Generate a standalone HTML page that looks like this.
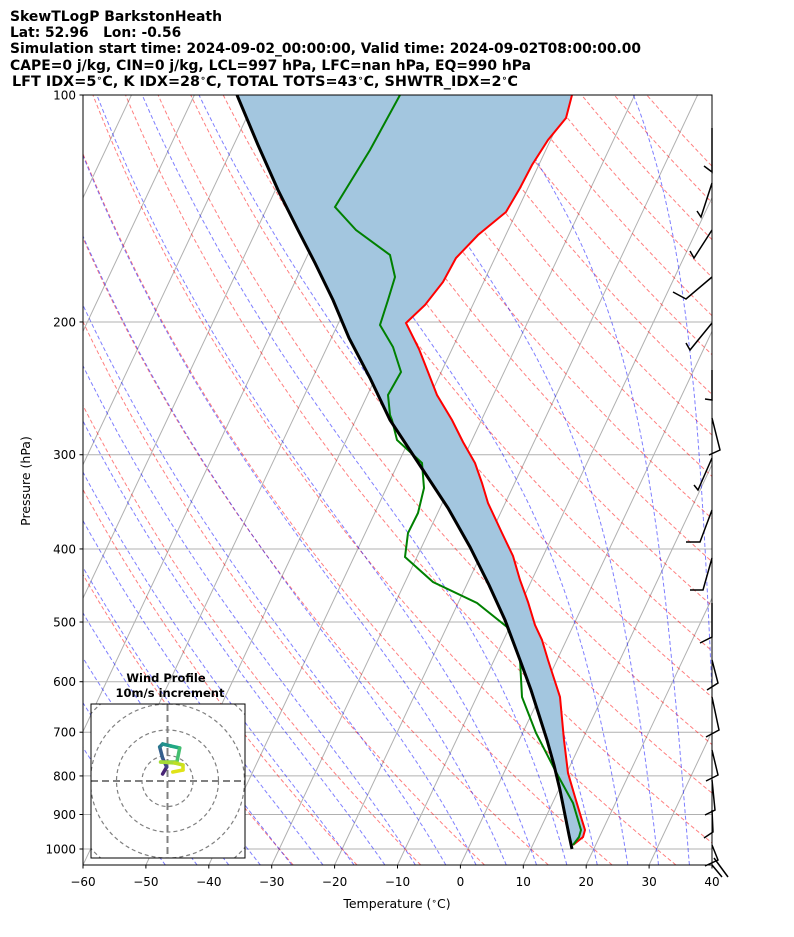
<!DOCTYPE html>
<html><head><meta charset="utf-8">
<style>
html,body{margin:0;padding:0;background:#fff;}
svg{display:block;font-family:"DejaVu Sans","Liberation Sans",sans-serif;}
</style></head>
<body>
<svg id="s" width="794" height="937" viewBox="0 0 794 937" xmlns="http://www.w3.org/2000/svg">
<defs><clipPath id="c"><rect x="83" y="95" width="629" height="770"/></clipPath>
<clipPath id="h"><rect x="91" y="704" width="154" height="154"/></clipPath></defs>
<rect width="794" height="937" fill="#fff"/>
<g id="bg" clip-path="url(#c)"></g>
<g id="data" clip-path="url(#c)"></g>
<g id="hodo"></g>
<g id="barbs" stroke="#000" stroke-width="1.5" fill="none"></g>
<rect x="83" y="95" width="629" height="770" fill="none" stroke="#000" stroke-width="1"/>
<g id="ticks" font-size="12px" fill="#000"></g>
<g font-weight="bold" font-size="13.8px" fill="#000">
<text x="10" y="21" textLength="212" lengthAdjust="spacingAndGlyphs">SkewTLogP BarkstonHeath</text>
<text x="10" y="37" xml:space="preserve">Lat: 52.96   Lon: -0.56</text>
<text x="10" y="53" textLength="631" lengthAdjust="spacingAndGlyphs">Simulation start time: 2024-09-02_00:00:00, Valid time: 2024-09-02T08:00:00.00</text>
<text x="10" y="70" textLength="521" lengthAdjust="spacingAndGlyphs">CAPE=0 j/kg, CIN=0 j/kg, LCL=997 hPa, LFC=nan hPa, EQ=990 hPa</text>
<text x="12" y="86" textLength="506" lengthAdjust="spacingAndGlyphs">LFT IDX=5<tspan font-size="9px" dy="-5">∘</tspan><tspan dy="5">C, K IDX=28</tspan><tspan font-size="9px" dy="-5">∘</tspan><tspan dy="5">C, TOTAL TOTS=43</tspan><tspan font-size="9px" dy="-5">∘</tspan><tspan dy="5">C, SHWTR_IDX=2</tspan><tspan font-size="9px" dy="-5">∘</tspan><tspan dy="5">C</tspan></text>
</g>
<text x="30" y="481" font-size="12.5px" text-anchor="middle" transform="rotate(-90 30 481)">Pressure (hPa)</text>
<text x="397" y="908" font-size="12.5px" text-anchor="middle">Temperature (<tspan font-size="9px" dy="-4">∘</tspan><tspan dy="4">C)</tspan></text>
<g font-weight="bold" font-size="11.5px" text-anchor="middle">
<text x="166" y="682">Wind Profile</text>
<text x="170" y="697">10m/s increment</text>
</g>
</svg>
<script>
(function(){
var NS="http://www.w3.org/2000/svg";
function Y(p){return 95+754*Math.log10(p/100);}
function X(T,p){return 83+(T+60)*6.29+0.4714*(865-Y(p));}
function el(par,tag,at){var e=document.createElementNS(NS,tag);for(var k in at)e.setAttribute(k,at[k]);document.getElementById(par).appendChild(e);return e;}
function pts(a){return a.map(function(q){return q[0].toFixed(1)+","+q[1].toFixed(1);}).join(" ");}
for(var p=100;p<=1000;p+=100){el("bg","line",{x1:83,x2:712,y1:Y(p),y2:Y(p),stroke:"#b0b0b0","stroke-width":1});}
for(var T=-160;T<=40;T+=10){el("bg","line",{x1:X(T,1050),y1:865,x2:X(T,100),y2:95,stroke:"#b0b0b0","stroke-width":1});}
var ps=[];for(var q=1050;q>=100;q-=5)ps.push(q);
for(var t0=-30;t0<=200;t0+=10){var th=t0+273.15;var a=ps.map(function(p){return [X(th*Math.pow(p/1000,0.2857)-273.15,p),Y(p)];});
el("bg","polyline",{points:pts(a),fill:"none",stroke:"#ff0000","stroke-opacity":0.5,"stroke-width":1,"stroke-dasharray":"4,2.5"});}
var Rd=287.04,Cp=1005.7,Lv=2.501e6,eps=0.622;
function f(p,T){var Pa=p*100;var es=611.2*Math.exp(17.67*(T-273.15)/(T-29.65));var rs=eps*es/(Pa-es);
return (Rd*T+Lv*rs)/(Cp+Lv*Lv*rs*eps/(Rd*T*T))/Pa*100;}
function moist(t0){var out={};var T=t0+273.15;out[1000]=T;var p=1000,h=-1;
for(var i=0;i<900;i++){var k1=f(p,T),k2=f(p+h/2,T+h/2*k1),k3=f(p+h/2,T+h/2*k2),k4=f(p+h,T+h*k3);T+=h/6*(k1+2*k2+2*k3+k4);p+=h;if(Math.round(p)%5==0)out[Math.round(p)]=T;}
T=t0+273.15;p=1000;h=1;for(i=0;i<50;i++){var k1=f(p,T),k2=f(p+h/2,T+h/2*k1),k3=f(p+h/2,T+h/2*k2),k4=f(p+h,T+h*k3);T+=h/6*(k1+2*k2+2*k3+k4);p+=h;if(Math.round(p)%5==0)out[Math.round(p)]=T;}
return ps.map(function(p){return [X(out[p]-273.15,p),Y(p)];});}
for(var m=-50;m<=45;m+=5){el("bg","polyline",{points:pts(moist(m)),fill:"none",stroke:"#0000ff","stroke-opacity":0.5,"stroke-width":1,"stroke-dasharray":"4,2.5"});}
var red=[[572,95],[566,118],[548,140],[532,165],[520,188],[506,212],[478,235],[456,258],[443,282],[425,305],[406,323],[419,349],[428,372],[437,395],[452,420],[463,442],[475,463],[482,483],[488,503],[502,533],[513,556],[520,580],[528,602],[535,625],[542,640],[548,660],[560,697],[564,740],[568,773],[575,797],[581,817],[585,830],[583,837],[573,845]];
var grn=[[400,95],[370,150],[335,207],[356,230],[390,255],[395,277],[388,300],[380,325],[393,347],[401,372],[388,395],[390,415],[392,420],[397,440],[422,463],[424,488],[418,513],[408,533],[405,557],[433,582],[477,603],[507,627],[520,660],[522,697],[536,733],[556,772],[573,803],[581,830],[579,837],[573,845]];
var par=[[237,95],[258,145],[278,190],[298,230],[315,263],[333,300],[349,338],[370,378],[390,420],[423,470],[448,508],[470,547],[489,585],[505,620],[520,660],[531,690],[539,715],[547,740],[554,765],[560,790],[565,815],[569,835],[572,849]];
el("data","polygon",{points:pts(par.concat(red.slice().reverse())),fill:"#a3c6df",stroke:"none"});
el("data","polyline",{points:pts(red),fill:"none",stroke:"#ff0000","stroke-width":2});
el("data","polyline",{points:pts(grn),fill:"none",stroke:"#008000","stroke-width":2});
el("data","polyline",{points:pts(par),fill:"none",stroke:"#000","stroke-width":3});
for(p=100;p<=1000;p+=100){el("ticks","line",{x1:79.5,x2:83,y1:Y(p),y2:Y(p),stroke:"#000"});var t=el("ticks","text",{x:76,y:Y(p)+4.5,"text-anchor":"end"});t.textContent=p;}
for(T=-60;T<=40;T+=10){var x=83+(T+60)*6.29;el("ticks","line",{x1:x,x2:x,y1:865,y2:868.5,stroke:"#000"});var t=el("ticks","text",{x:x,y:886,"text-anchor":"middle"});t.textContent=(T<0?"\u2212"+(-T):T);}
var B=[[[712,128],[712,172],[704,166]],[[712,183],[701,217],[697,211]],[[712,230],[694,258],[690,251]],[[712,277],[686,299],[673,292]],[[712,323],[690,350],[686,343]],[[712,370],[712,400],[705,399]],[[712,418],[720,450],[709,455]],[[712,458],[698,490],[694,485]],[[712,510],[700,542],[686,542]],[[712,558],[703,590],[690,590]],[[712,603],[712,637],[700,643]],[[712,660],[718,683],[707,690]],[[712,697],[719,730],[706,737]],[[712,750],[718,775],[706,781]],[[712,780],[715,810],[705,815]],[[712,810],[713,832],[704,838]],[[712,845],[718,860],[705,866]],[[714,858],[728,877]],[[712,865],[722,877]]];
B.forEach(function(b){el("barbs","polyline",{points:pts(b)});});
el("hodo","rect",{x:91,y:704,width:154,height:154,fill:"#fff",stroke:"none"});
var hg=el("hodo","g",{"clip-path":"url(#h)"});
[25.5,51,77,102].forEach(function(r){var c=document.createElementNS(NS,"circle");c.setAttribute("cx",167.5);c.setAttribute("cy",781);c.setAttribute("r",r);c.setAttribute("fill","none");c.setAttribute("stroke","#808080");c.setAttribute("stroke-width",1.2);c.setAttribute("stroke-dasharray","4,3");hg.appendChild(c);});
["M91,781H245","M167.5,704V858"].forEach(function(d){var l=document.createElementNS(NS,"path");l.setAttribute("d",d);l.setAttribute("stroke","#808080");l.setAttribute("stroke-width",2);l.setAttribute("stroke-dasharray","7,4");hg.appendChild(l);});
var H=[[162.6,774,"#440154"],[166.7,767,"#482475"],[162.6,758,"#414487"],[159.7,747,"#355f8d"],[162.6,744,"#2a788e"],[170.8,746,"#21918c"],[179.7,748,"#22a884"],[176.9,762,"#44bf70"],[160.6,762,"#7ad151"],[174.8,763,"#a5db36"],[183,765,"#bddf26"],[183,770,"#d2e21b"],[172.8,772,"#e0e318"]];
for(var i=1;i<H.length;i++){var l=document.createElementNS(NS,"line");l.setAttribute("x1",H[i-1][0]);l.setAttribute("y1",H[i-1][1]);l.setAttribute("x2",H[i][0]);l.setAttribute("y2",H[i][1]);l.setAttribute("stroke",H[i][2]);l.setAttribute("stroke-width",3.5);l.setAttribute("stroke-linecap","round");hg.appendChild(l);}
el("hodo","rect",{x:91,y:704,width:154,height:154,fill:"none",stroke:"#000","stroke-width":1});
})();
</script>
</body></html>
